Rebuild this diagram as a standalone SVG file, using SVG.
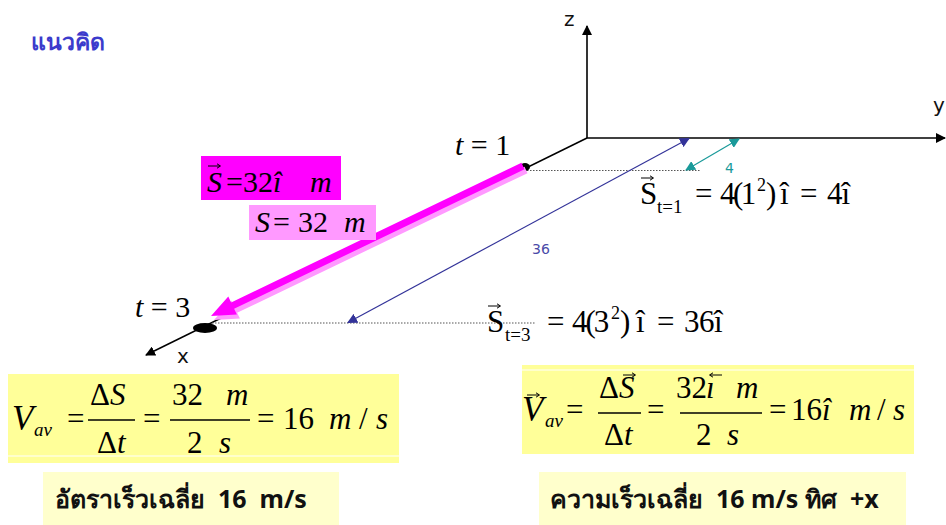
<svg xmlns="http://www.w3.org/2000/svg" width="946" height="525" viewBox="0 0 946 525">
<defs>
<style>
.m{font-family:"Liberation Serif","Times New Roman",serif;fill:#000;font-size:31px}
.i{font-style:italic}
.s{font-size:19px}
.p{font-size:18px}
.ax{font-family:"DejaVu Sans","Liberation Sans",sans-serif;font-size:20px;fill:#111}
.th{font-family:"Noto Sans","DejaVu Sans",sans-serif;fill:#111;font-size:25px;font-weight:bold}
.fr{stroke:#000;stroke-width:1.4}
</style>
<marker id="ab" viewBox="0 0 10 10" refX="9" refY="5" markerWidth="10" markerHeight="10" markerUnits="userSpaceOnUse" orient="auto-start-reverse"><path d="M0,0L10,5L0,10z" fill="#333399"/></marker>
<marker id="at" viewBox="0 0 10 10" refX="9" refY="5" markerWidth="10" markerHeight="10" markerUnits="userSpaceOnUse" orient="auto-start-reverse"><path d="M0,0L10,5L0,10z" fill="#1a9a9a"/></marker>
<marker id="ak" viewBox="0 0 10 10" refX="9" refY="5" markerWidth="10" markerHeight="10" markerUnits="userSpaceOnUse" orient="auto"><path d="M0,0L10,5L0,10z" fill="#000"/></marker>
<path id="vec" d="M0,0H12M9,-2.2L12.5,0L9,2.2" fill="none" stroke="#000" stroke-width="1"/>
<path id="vecL" d="M12,0H0M3,-2.2L-0.5,0L3,2.2" fill="none" stroke="#000" stroke-width="1"/>
</defs>
<rect width="946" height="525" fill="#fff"/>

<g id="title"><text class="th" x="31" y="50" style="font-size:23px;fill:#3b3bcc">แนวคิด</text></g>

<g id="axes" fill="none" stroke="#000" stroke-width="1.6">
<line x1="587" y1="138" x2="587" y2="26" marker-end="url(#ak)"/>
<line x1="587" y1="138" x2="945" y2="138" marker-end="url(#ak)"/>
<line x1="587" y1="138" x2="146" y2="355" marker-end="url(#ak)"/>
</g>
<g id="axis-labels">
<text class="ax" x="564" y="26">z</text>
<text class="ax" x="933" y="112">y</text>
<text class="ax" x="177" y="363">x</text>
</g>

<g id="connectors">
<line x1="527" y1="170.5" x2="700" y2="170.5" stroke="#555" stroke-width="1.2" stroke-dasharray="1.5,1.5"/>
<line x1="212" y1="323" x2="535" y2="323" stroke="#555" stroke-width="1.2" stroke-dasharray="1.5,1.5"/>
<line x1="348" y1="322.5" x2="689" y2="138.5" stroke="#333399" stroke-width="1.2" marker-start="url(#ab)" marker-end="url(#ab)"/>
<line x1="686" y1="170" x2="739" y2="139" stroke="#1a9a9a" stroke-width="1.2" marker-start="url(#at)" marker-end="url(#at)"/>
</g>

<g id="points">
<ellipse cx="525" cy="167" rx="5" ry="4" fill="#000"/>
<ellipse cx="205" cy="328" rx="12" ry="5" fill="#000"/>
</g>

<g id="displacement-arrow">
<polygon transform="translate(3,4)" fill="#ff99ff" points="521.5,162.8 231.1,302.4 228.3,296.6 211,316 236.9,314.6 234.1,308.8 524.5,169.2"/>
<polygon fill="#ff00ff" points="521.5,162.8 231.1,302.4 228.3,296.6 211,316 236.9,314.6 234.1,308.8 524.5,169.2"/>
</g>

<g id="labels">
<text class="ax" x="532" y="254" style="font-size:14px;fill:#4a4aa8">36</text>
<text class="ax" x="725" y="173" style="font-size:14px;fill:#1a9a9a">4</text>
<text class="m" x="455" y="155" style="font-size:30px"><tspan class="i">t</tspan> = 1</text>
<text class="m" x="135" y="317" style="font-size:30px"><tspan class="i">t</tspan> = 3</text>
</g>

<g id="vector-S-box">
<rect x="201" y="156" width="140" height="44" fill="#ff00ff"/>
<use href="#vec" x="208" y="166"/>
<text class="m" y="192" style="font-size:30px"><tspan class="i" x="207">S</tspan><tspan x="226">=</tspan><tspan x="243">32</tspan><tspan class="i" x="273">î</tspan><tspan class="i" x="310">m</tspan></text>
</g>

<g id="scalar-S-box">
<rect x="249" y="205" width="127" height="35" fill="#ff99ff"/>
<text class="m" y="232" style="font-size:30px"><tspan class="i" x="255">S</tspan><tspan x="273">=</tspan><tspan x="298">32</tspan><tspan class="i" x="344">m</tspan></text>
</g>

<g id="S-t1">
<use href="#vec" x="641" y="178"/>
<text class="m" y="204"><tspan x="640">S</tspan><tspan class="s" x="657" y="213">t=1</tspan><tspan x="695" y="204">=</tspan><tspan x="720" letter-spacing="-2.5">4(1</tspan><tspan class="p" x="757" y="191">2</tspan><tspan x="766" y="204">)</tspan><tspan x="780">î</tspan><tspan x="800">=</tspan><tspan x="827" letter-spacing="-1">4î</tspan></text>
</g>

<g id="S-t3">
<use href="#vec" x="488" y="306"/>
<text class="m" y="332"><tspan x="487">S</tspan><tspan class="s" x="505" y="341">t=3</tspan><tspan x="547" y="332">=</tspan><tspan x="572" letter-spacing="-2">4(3</tspan><tspan class="p" x="611" y="319">2</tspan><tspan x="620" y="332">)</tspan><tspan x="636">î</tspan><tspan x="657">=</tspan><tspan x="684" letter-spacing="-0.5">36î</tspan></text>
</g>

<g id="speed-eq">
<rect x="8" y="374" width="391" height="89" fill="#ffff99"/>
<line x1="8" y1="456" x2="399" y2="456" stroke="#fff" stroke-width="1"/>
<text class="m i" x="12" y="430" style="font-size:35px">V</text>
<text class="m i" x="34" y="436" style="font-size:19px">av</text>
<text class="m" x="67" y="429">=</text>
<text class="m" x="90" y="405">Δ<tspan class="i">S</tspan></text>
<line class="fr" x1="88" y1="420" x2="135" y2="420"/>
<text class="m" x="97" y="453">Δ<tspan class="i">t</tspan></text>
<text class="m" x="143" y="429">=</text>
<text class="m" y="405"><tspan x="172">32</tspan><tspan class="i" x="226">m</tspan></text>
<line class="fr" x1="170" y1="420" x2="250" y2="420"/>
<text class="m" y="453"><tspan x="187">2</tspan><tspan class="i" x="219">s</tspan></text>
<text class="m" y="429"><tspan x="257">=</tspan><tspan x="283">16</tspan><tspan class="i" x="329">m</tspan><tspan x="359">/</tspan><tspan class="i" x="376">s</tspan></text>
</g>

<g id="speed-text">
<rect x="43" y="472" width="296" height="53" fill="#ffffcc"/>
<text class="th" x="55" y="508" xml:space="preserve">อัตราเร็วเฉลี่ย  16  m/s</text>
</g>

<g id="velocity-eq">
<rect x="522" y="365" width="392" height="89" fill="#ffff99"/>
<line x1="522" y1="370" x2="914" y2="370" stroke="#fff" stroke-width="1"/>
<text class="m i" x="522" y="421" style="font-size:35px">V</text>
<use href="#vec" x="527" y="395"/>
<text class="m i" x="545" y="427" style="font-size:19px">av</text>
<text class="m" x="566" y="420">=</text>
<text class="m" x="599" y="398">Δ<tspan class="i">S</tspan></text>
<use href="#vec" x="623" y="375"/>
<line class="fr" x1="598" y1="413" x2="641" y2="413"/>
<text class="m" x="604" y="445">Δ<tspan class="i">t</tspan></text>
<text class="m" x="647" y="420">=</text>
<text class="m" y="398"><tspan x="676">32</tspan><tspan class="i" x="706">ı</tspan><tspan class="i" x="736">m</tspan></text>
<use href="#vecL" x="710" y="375"/>
<line class="fr" x1="680" y1="413" x2="762" y2="413"/>
<text class="m" y="445"><tspan x="696">2</tspan><tspan class="i" x="727">s</tspan></text>
<text class="m" y="420"><tspan x="769">=</tspan><tspan x="791">16</tspan><tspan class="i" x="822">î</tspan><tspan class="i" x="849">m</tspan><tspan x="877">/</tspan><tspan class="i" x="893">s</tspan></text>
</g>

<g id="velocity-text">
<rect x="539" y="472" width="367" height="53" fill="#ffffcc"/>
<text class="th" x="550" y="508" xml:space="preserve">ความเร็วเฉลี่ย  16 m/s ทิศ  +x</text>
</g>
</svg>
